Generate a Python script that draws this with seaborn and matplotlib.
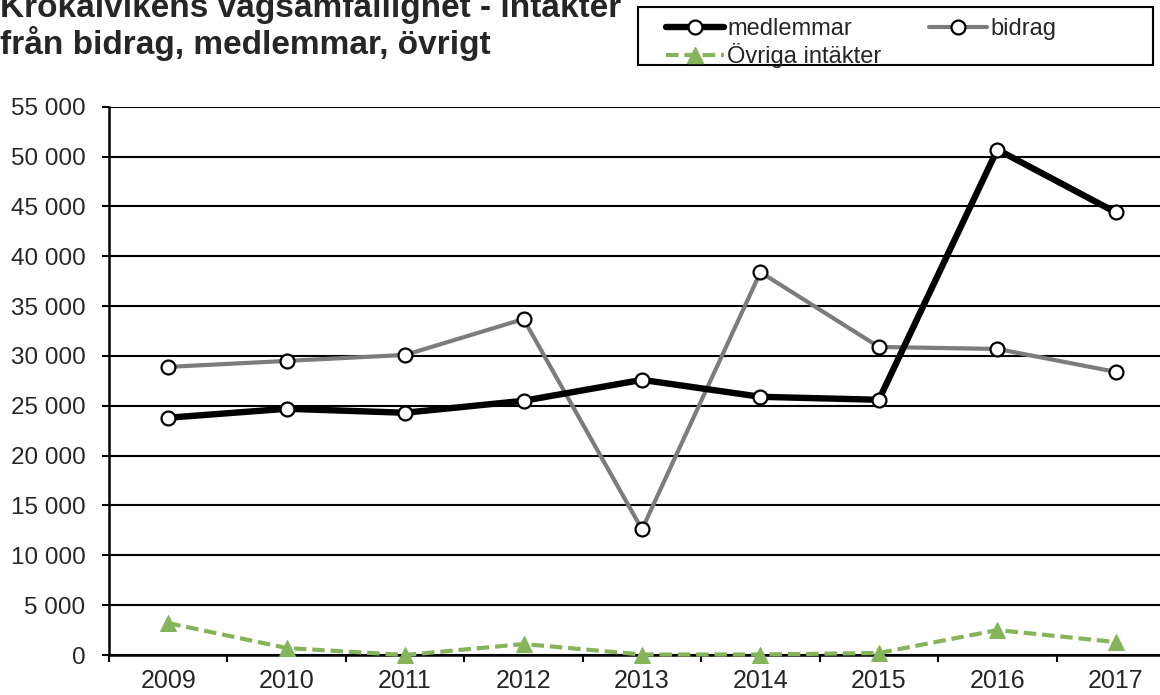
import matplotlib
matplotlib.use("Agg")
import matplotlib.pyplot as plt
import seaborn as sns
import pandas as pd
from matplotlib.ticker import FuncFormatter, FixedLocator
from matplotlib.lines import Line2D
from matplotlib.patches import Rectangle

years = ["2009", "2010", "2011", "2012", "2013", "2014", "2015", "2016", "2017"]
medlemmar = [23800, 24700, 24300, 25500, 27600, 25900, 25600, 50700, 44400]
bidrag = [28900, 29500, 30100, 33700, 12600, 38400, 30900, 30700, 28400]
ovriga = [3200, 700, 0, 1100, 50, 50, 200, 2500, 1300]

title_lines = ["Krokalvikens vägsamfällighet - intäkter", "från bidrag, medlemmar, övrigt"]
series_names = ["medlemmar", "bidrag", "Övriga intäkter"]

sns.set_style("white")
plt.rcParams["font.family"] = ["Liberation Sans", "DejaVu Sans"]

W, H = 1160, 695
fig = plt.figure(figsize=(W / 100, H / 100), dpi=100)
ax = fig.add_axes([109 / W, 40 / H, 1066 / W, 548.3 / H])

df = pd.DataFrame({"year": years, "medlemmar": medlemmar, "bidrag": bidrag, "ovriga": ovriga})

green = "#86b45a"
grey = "#7c7c7c"
dash = (0, (3, 1.4))
circ = dict(marker="o", markersize=10, markerfacecolor="white", markeredgecolor="black",
            markeredgewidth=1.6)
tri = dict(marker="^", markersize=11, markerfacecolor=green, markeredgecolor=green)

sns.lineplot(data=df, x="year", y="bidrag", ax=ax, color=grey, lw=3, zorder=3, **circ)
sns.lineplot(data=df, x="year", y="medlemmar", ax=ax, color="black", lw=4.6, zorder=4, **circ)
sns.lineplot(data=df, x="year", y="ovriga", ax=ax, color=green, lw=3, linestyle=dash,
             zorder=5, clip_on=False, **tri)

ax.set_xlim(-0.5, len(years) - 0.5)
ax.set_ylim(0, 55000)
ax.set_yticks(range(0, 55001, 5000))
ax.yaxis.set_major_formatter(FuncFormatter(lambda v, p: f"{int(v):,}".replace(",", " ")))
ax.set_xticks(range(len(years)))
ax.set_xticklabels(years)
ax.xaxis.set_minor_locator(FixedLocator([i + 0.5 for i in range(-1, len(years))]))
ax.tick_params(axis="x", which="major", length=0, pad=10, labelsize=18)
ax.tick_params(axis="x", which="minor", length=5, width=1.5, color="black", direction="out", bottom=True)
ax.tick_params(axis="y", which="major", length=5, width=1.5, color="black", direction="out",
               labelsize=17.5, pad=12, left=True)
ax.set_xlabel("")
ax.set_ylabel("")

ax.grid(axis="y", color="black", lw=1.5, zorder=1)
ax.set_axisbelow(True)
for s in ["top", "right"]:
    ax.spines[s].set_visible(False)
for s in ["left", "bottom"]:
    ax.spines[s].set_color("black")
    ax.spines[s].set_linewidth(1.8)

fig.text(0.0, 1 - 17 / H, title_lines[0], fontsize=24, fontweight="bold", va="baseline", ha="left")
fig.text(0.0, 1 - 54 / H, title_lines[1], fontsize=24, fontweight="bold", va="baseline", ha="left")

# legend frame
fig.patches.append(Rectangle((638 / W, 1 - 65 / H), (1153 - 638) / W, 58 / H,
                             transform=fig.transFigure, fill=False, edgecolor="black", lw=1.5))

h_med = Line2D([], [], color="black", lw=4.6, **circ)
h_bid = Line2D([], [], color=grey, lw=3, **circ)
h_ovr = Line2D([], [], color=green, lw=3, linestyle=dash, **tri)
leg = fig.legend([h_med, h_ovr, h_bid], [series_names[0], series_names[2], series_names[1]],
                 ncol=2, loc="upper left", bbox_to_anchor=(666 / W, 1 - 18 / H),
                 frameon=False, fontsize=17,
                 handlelength=2.45, handletextpad=0.15, columnspacing=2.0, labelspacing=0.12,
                 borderpad=0, borderaxespad=0)

fig.savefig("out.png", dpi=100)
